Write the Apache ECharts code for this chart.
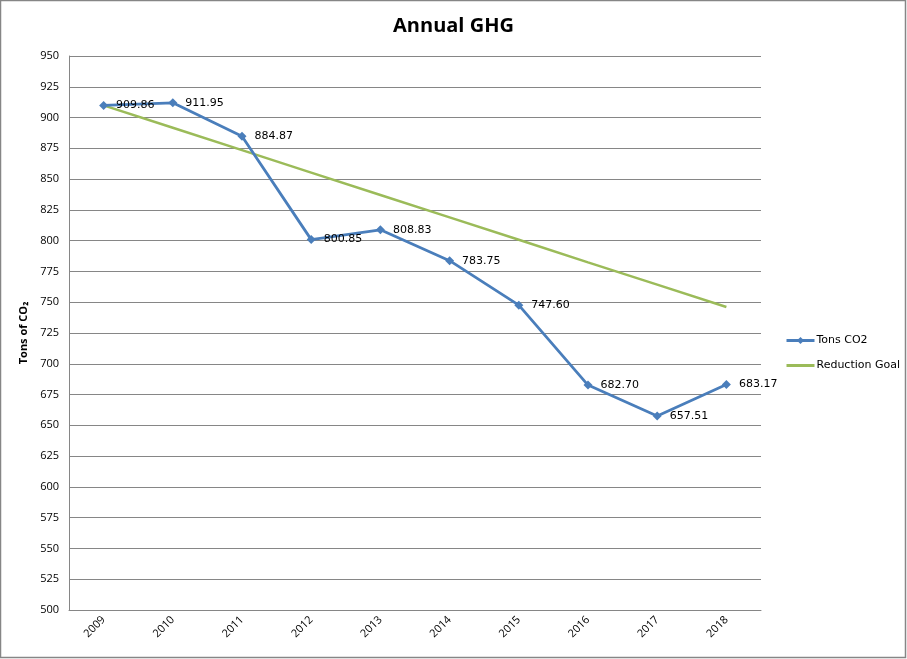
<!DOCTYPE html>
<html>
<head>
<meta charset="utf-8">
<script src="https://cdn.jsdelivr.net/npm/echarts@6/dist/echarts.min.js"></script>
<style>html,body{margin:0;padding:0;background:#fff}#c{width:907px;height:659px}</style>
</head>
<body>
<div id="c"></div>
<script>
var years = ['2009','2010','2011','2012','2013','2014','2015','2016','2017','2018'];
var tonsCO2 = [909.86, 911.95, 884.87, 800.85, 808.83, 783.75, 747.60, 682.70, 657.51, 683.17];
var reductionGoal = [909.86, 891.7, 873.5, 855.3, 837.1, 818.9, 800.7, 782.4, 764.3, 746.1];

var chart = echarts.init(document.getElementById('c'), null, {renderer: 'canvas'});
var gray = '#868686';
chart.setOption({
  animation: false,
  backgroundColor: '#ffffff',
  title: {
    text: 'Annual GHG', left: 'center', top: 11,
    textStyle: {fontFamily: 'Open Sans', fontSize: 20, fontWeight: 'bold', color: '#000'}
  },
  graphic: [{
    type: 'rect', shape: {x: 0.5, y: 0.5, width: 905, height: 657},
    style: {fill: 'none', stroke: gray, lineWidth: 1.5}, silent: true
  }],
  legend: {
    orient: 'vertical', left: 780, top: 330, itemWidth: 28, itemHeight: 9, itemGap: 14,
    textStyle: {fontFamily: 'DejaVu Sans', fontSize: 11, color: '#000', padding: [0,0,0,-3]},
    data: [
      {name: 'Tons CO2', lineStyle: {width: 3, color: '#4a7ebb'}},
      {name: 'Reduction Goal', icon: 'path://M0,0 L28,0 L28,3 L0,3 Z', itemStyle: {color: '#9bbb59'}}
    ]
  },
  grid: {left: 69, right: 146, top: 56, bottom: 49, containLabel: false},
  xAxis: {
    type: 'category', data: years, boundaryGap: true,
    axisLine: {lineStyle: {color: gray, width: 1}},
    axisTick: {alignWithLabel: true, length: 5, lineStyle: {color: gray}},
    axisLabel: {rotate: 45, fontFamily: 'Open Sans', fontSize: 11, color: '#000', margin: 8}
  },
  yAxis: {
    type: 'value', min: 500, max: 950, interval: 25,
    name: 'Tons of CO₂', nameLocation: 'middle', nameGap: 36, nameRotate: 90,
    nameTextStyle: {fontFamily: 'Open Sans', fontSize: 11, fontWeight: 'bold', color: '#000'},
    axisLine: {show: true, lineStyle: {color: gray, width: 1}},
    axisTick: {show: false},
    splitLine: {lineStyle: {color: gray, width: 1}},
    axisLabel: {fontFamily: 'Open Sans', fontSize: 11, color: '#000', margin: 10}
  },
  series: [
    {
      name: 'Reduction Goal', type: 'line', data: reductionGoal, z: 2,
      symbol: 'none', lineStyle: {color: '#9bbb59', width: 2.5}, itemStyle: {color: '#9bbb59'}
    },
    {
      name: 'Tons CO2', type: 'line', data: tonsCO2, z: 3,
      symbol: 'diamond', symbolSize: 9, showAllSymbol: true,
      lineStyle: {color: '#4a7ebb', width: 2.8}, itemStyle: {color: '#4a7ebb'},
      label: {
        show: true, position: 'right', distance: 8,
        fontFamily: 'DejaVu Sans', fontSize: 11, color: '#000',
        formatter: function(p){ return p.value.toFixed(2); }
      }
    }
  ]
});
</script>
</body>
</html>
